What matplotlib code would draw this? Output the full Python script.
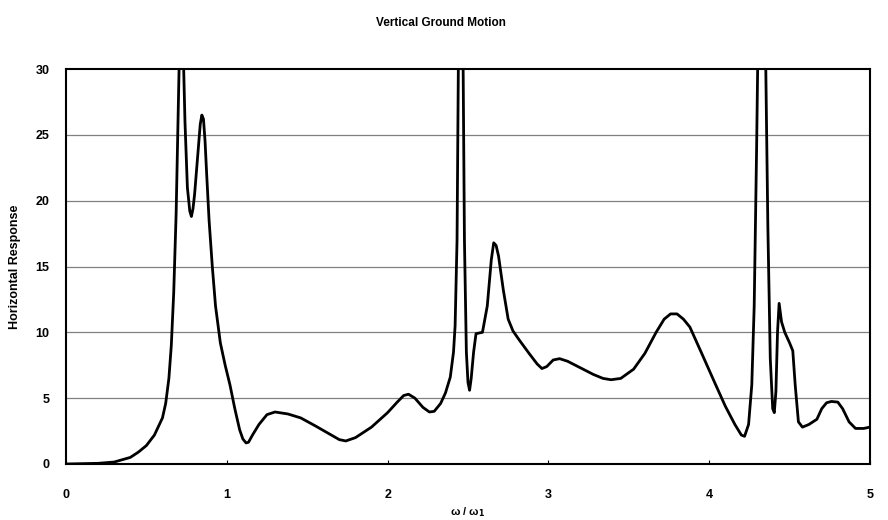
import matplotlib
matplotlib.use("Agg")
import matplotlib.pyplot as plt

# frequency ratio w/w1 and horizontal response
freq = [0.0, 0.2, 0.3, 0.4, 0.45, 0.5, 0.55, 0.6, 0.62, 0.64, 0.655, 0.67, 0.685, 0.70, 0.71, 0.72,
        0.73, 0.74, 0.755, 0.77, 0.78, 0.79, 0.80, 0.82, 0.835, 0.845, 0.855, 0.865, 0.875, 0.89,
        0.91, 0.93, 0.96, 0.99, 1.02, 1.05, 1.08, 1.10, 1.12, 1.135, 1.16, 1.20, 1.25, 1.30,
        1.38, 1.46, 1.55, 1.65, 1.70, 1.74, 1.80, 1.90, 2.00, 2.06, 2.10, 2.13, 2.17, 2.22,
        2.26, 2.29, 2.33, 2.36, 2.39, 2.41, 2.42, 2.432, 2.44, 2.455, 2.47, 2.478, 2.49,
        2.50, 2.51, 2.52, 2.535, 2.55, 2.59, 2.62, 2.645, 2.66, 2.675, 2.69, 2.72, 2.75, 2.78,
        2.82, 2.88, 2.93, 2.96, 2.99, 3.03, 3.07, 3.12, 3.20, 3.28, 3.34, 3.39, 3.45, 3.53,
        3.60, 3.67, 3.72, 3.76, 3.80, 3.84, 3.88, 3.95, 4.03, 4.10, 4.16, 4.20, 4.22, 4.245,
        4.265, 4.28, 4.295, 4.31, 4.33, 4.35, 4.365, 4.38, 4.395, 4.405, 4.415, 4.425, 4.435,
        4.45, 4.47, 4.50, 4.52, 4.535, 4.555, 4.58, 4.62, 4.67, 4.70, 4.73, 4.76, 4.80, 4.83,
        4.87, 4.91, 4.96, 5.0]
response = [0.0, 0.05, 0.15, 0.5, 0.9, 1.4, 2.2, 3.5, 4.6, 6.5, 9.0, 13.0, 19, 28, 34, 36,
            31, 26, 21, 19.2, 18.8, 19.4, 20.5, 23.5, 25.8, 26.5, 26.2, 24.5, 22, 18.5,
            15, 12, 9.2, 7.5, 6.0, 4.2, 2.6, 1.9, 1.6, 1.65, 2.2, 3.0, 3.75, 3.95,
            3.8, 3.5, 2.9, 2.2, 1.85, 1.75, 2.0, 2.8, 3.9, 4.7, 5.2, 5.3, 5.0, 4.3,
            3.95, 4.0, 4.6, 5.4, 6.6, 8.5, 10.5, 17, 30, 45, 30, 17, 8.5,
            6.2, 5.6, 6.5, 8.5, 9.9, 10.0, 12, 15.5, 16.8, 16.6, 15.8, 13.2, 11, 10.1,
            9.4, 8.4, 7.6, 7.25, 7.4, 7.9, 8.0, 7.8, 7.3, 6.8, 6.5, 6.4, 6.5, 7.2,
            8.4, 10.0, 11.0, 11.4, 11.4, 11.0, 10.4, 8.5, 6.3, 4.4, 3.0, 2.2, 2.1, 3.0,
            6, 12, 24, 38, 40, 32, 18, 8, 4.2, 3.9, 5.5, 10, 12.2,
            10.8, 10.0, 9.2, 8.6, 6, 3.2, 2.8, 3.0, 3.4, 4.2, 4.65, 4.75, 4.7, 4.2,
            3.2, 2.7, 2.7, 2.8]

x_ticks = [0, 1, 2, 3, 4, 5]
y_ticks = [0, 5, 10, 15, 20, 25, 30]

plt.rcParams["font.family"] = ["Liberation Sans", "DejaVu Sans"]
plt.rcParams["font.weight"] = "bold"

fig = plt.figure(figsize=(8.88, 5.2), dpi=100)
ax = fig.add_axes([0.0743, 0.1077, 0.9054, 0.7596])

for y in y_ticks[1:-1]:
    ax.axhline(y, color="#808080", linewidth=0.9, zorder=1)

ax.plot(freq, response, color="black", linewidth=2.0, zorder=3,
        solid_joinstyle="round", solid_capstyle="round")

ax.set_xlim(0, 5)
ax.set_ylim(0, 30)
ax.set_xticks(x_ticks)
ax.set_yticks(y_ticks)
ax.tick_params(axis="x", direction="in", length=3, pad=18, labelsize=9)
ax.tick_params(axis="y", length=0, pad=12, labelsize=9)
for lab in ax.get_xticklabels() + ax.get_yticklabels():
    lab.set_fontweight("bold")
for s in ax.spines.values():
    s.set_linewidth(1.5)

fig.text(0.497, 0.956, "Vertical Ground Motion", ha="center", va="center",
         fontsize=8.5, fontweight="bold")
fig.text(0.527, 0.015, "ω / ω$_1$", ha="center", va="center", fontsize=8)
ax.set_ylabel("Horizontal Response", fontsize=9, fontweight="bold", labelpad=10)

fig.savefig("out.png", dpi=100)
